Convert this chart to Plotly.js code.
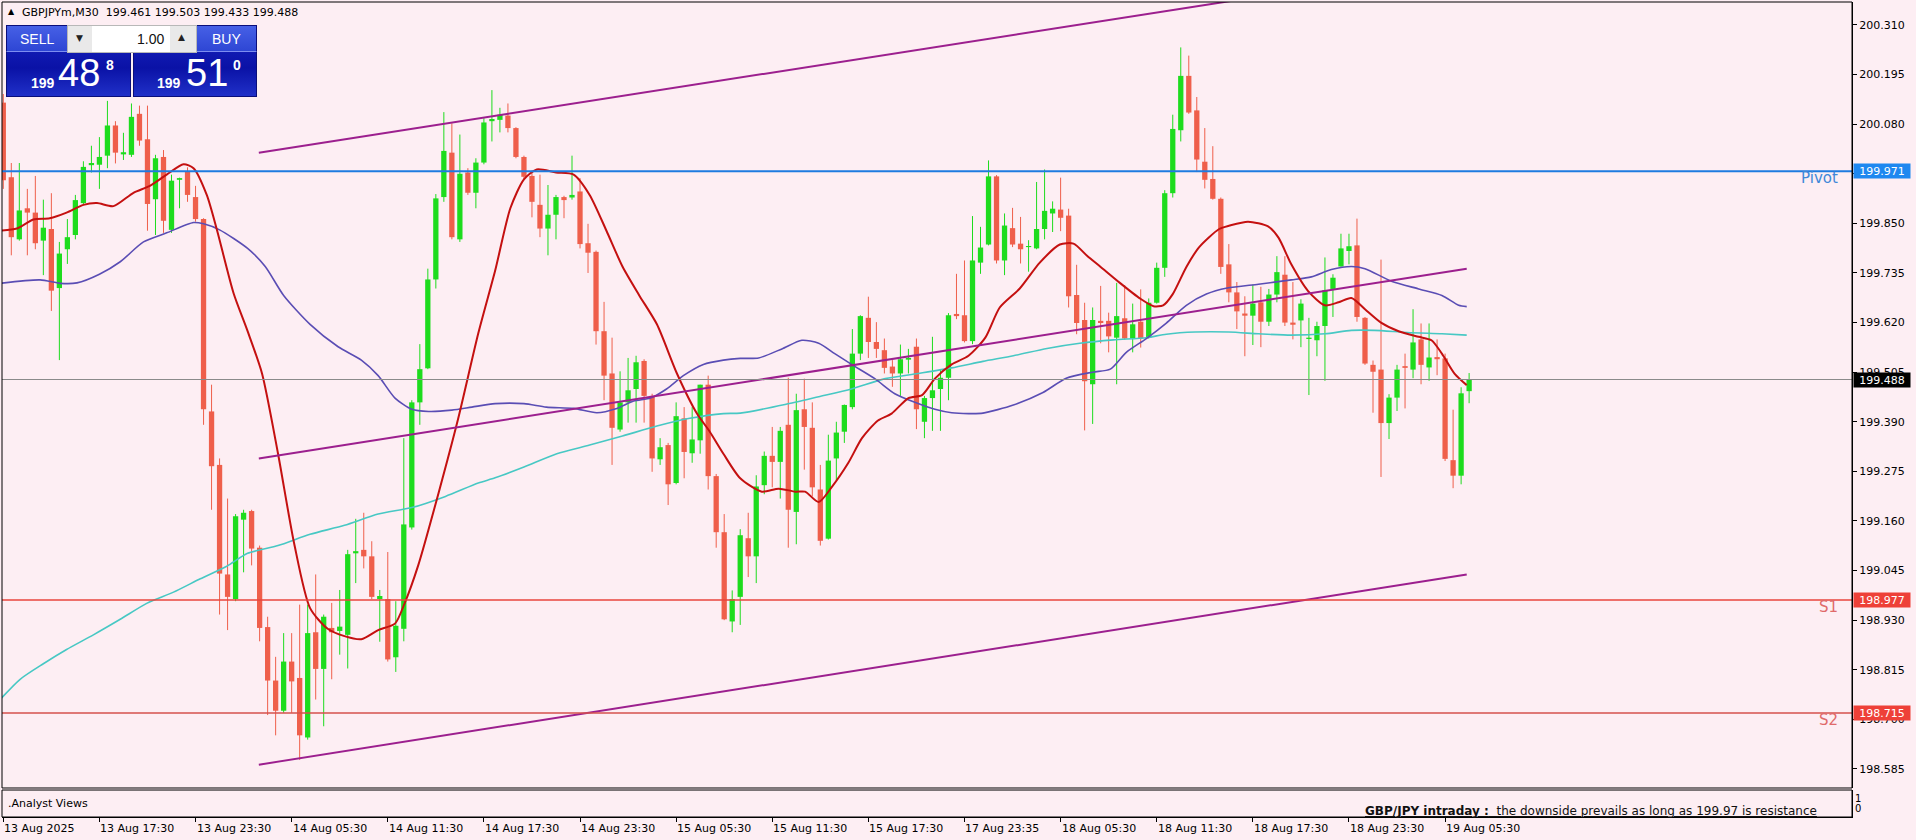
<!DOCTYPE html>
<html><head><meta charset="utf-8">
<script src="https://cdn.plot.ly/plotly-3.0.1.min.js"></script>
<style>
html,body{margin:0;padding:0;background:#FDEEF3;overflow:hidden;}
#chart{width:1916px;height:840px;position:absolute;left:0;top:0;}
.ov{position:absolute;box-sizing:border-box;}
.t{position:absolute;white-space:nowrap;font-family:'Liberation Sans',Arial,sans-serif;color:#fff;line-height:1;}
</style></head><body>
<div id="chart"></div>

<!-- header -->
<div class="t" style="left:8px;top:8px;font-size:8px;color:#000;font-family:'DejaVu Sans';">&#9650;</div>
<div class="t" style="left:22px;top:7px;font-size:11px;color:#000;font-family:'DejaVu Sans';">GBPJPYm,M30&nbsp;&nbsp;199.461 199.503 199.433 199.488</div>

<!-- one click trading panel -->
<div class="ov" style="left:6px;top:25px;width:125px;height:72px;background:linear-gradient(#1a26c4,#0a12a6 60%,#2030c8);border:1px solid #0a0e7a;"></div>
<div class="ov" style="left:6px;top:25px;width:62px;height:27px;background:linear-gradient(#4660e6,#2e46d4);border:1px solid #0a0e7a;border-bottom:1px solid #7d8df0;"></div>
<div class="ov" style="left:133px;top:25px;width:124px;height:72px;background:linear-gradient(#1a26c4,#0a12a6 60%,#2030c8);border:1px solid #0a0e7a;"></div>
<div class="ov" style="left:196px;top:25px;width:61px;height:27px;background:linear-gradient(#4660e6,#2e46d4);border:1px solid #0a0e7a;border-bottom:1px solid #7d8df0;"></div>
<div class="ov" style="left:133px;top:51px;width:63px;height:1px;background:#7d8df0;"></div>
<div class="ov" style="left:67px;top:25px;width:130px;height:28px;background:#e9e9e9;border:1px solid #b8b8b8;"></div>
<div class="ov" style="left:92px;top:26px;width:78px;height:26px;background:#ffffff;"></div>
<div class="t" style="left:76px;top:34px;font-size:9px;color:#222;font-family:'DejaVu Sans';">&#9660;</div>
<div class="t" style="left:178px;top:33px;font-size:9px;color:#222;font-family:'DejaVu Sans';">&#9650;</div>
<div class="t" style="left:137px;top:32px;font-size:14px;color:#111;">1.00</div>
<div class="t" style="left:20px;top:32px;font-size:14px;">SELL</div>
<div class="t" style="left:212px;top:32px;font-size:14px;">BUY</div>
<div class="t" style="left:31px;top:76px;font-size:14px;font-weight:bold;">199</div>
<div class="t" style="left:58px;top:54px;font-size:38px;">48</div>
<div class="t" style="left:106px;top:58px;font-size:14px;font-weight:bold;">8</div>
<div class="t" style="left:157px;top:76px;font-size:14px;font-weight:bold;">199</div>
<div class="t" style="left:186px;top:54px;font-size:38px;">51</div>
<div class="t" style="left:233px;top:58px;font-size:14px;font-weight:bold;">0</div>

<script>
// ---------------- data ----------------
const symbol = 'GBPJPYm,M30';
const tickIdx = [0,12,24,36,48,60,72,84,96,108,120,132,144,156,168,180];
const tickLabels = ['13 Aug 2025','13 Aug 17:30','13 Aug 23:30','14 Aug 05:30','14 Aug 11:30','14 Aug 17:30','14 Aug 23:30','15 Aug 05:30','15 Aug 11:30','15 Aug 17:30','17 Aug 23:35','18 Aug 05:30','18 Aug 11:30','18 Aug 17:30','18 Aug 23:30','19 Aug 05:30'];
const priceTicks = [198.585,198.700,198.815,198.930,199.045,199.160,199.275,199.390,199.505,199.620,199.735,199.850,199.965,200.080,200.195,200.310];

const openP = [200.13,199.957,199.813,199.885,199.875,199.81,199.837,199.70,199.79,199.823,199.897,199.985,199.986,200.007,200.077,200.01,200.009,200.104,200.045,199.906,200.004,199.835,199.951,199.97,199.911,199.86,199.414,199.29,199.036,198.979,
199.163,199.183,199.098,198.914,198.79,198.72,198.834,198.796,198.658,198.902,198.817,198.912,198.905,198.896,199.085,199.093,199.078,198.979,198.979,198.844,198.91,199.145,199.435,199.514,199.72,199.911,200.014,199.813,199.968,199.921,
199.991,200.087,200.09,200.1,200.071,200.004,199.96,199.893,199.838,199.87,199.911,199.91,199.924,199.804,199.784,199.6,199.502,199.372,199.435,199.466,199.531,199.45,199.303,199.336,199.248,199.398,199.317,199.347,199.476,199.264,
199.134,198.927,198.984,199.12,199.078,199.243,199.311,199.297,199.383,199.181,199.419,199.376,199.233,199.119,199.305,199.367,199.424,199.548,199.631,199.575,199.556,199.518,199.502,199.534,199.564,199.39,199.445,199.466,199.492,199.64,
199.637,199.577,199.759,199.801,199.959,199.764,199.839,199.803,199.795,199.792,199.837,199.873,199.882,199.868,199.684,199.626,199.477,199.624,199.624,199.585,199.63,199.583,199.622,199.585,199.666,199.747,199.92,200.066,200.192,200.112,
199.993,199.953,199.907,199.755,199.69,199.641,199.636,199.667,199.622,199.685,199.731,199.62,199.625,199.582,199.579,199.612,199.698,199.75,199.786,199.799,199.631,199.522,199.511,199.387,199.446,199.519,199.511,199.581,199.516,199.54,
199.537,199.301,199.265,199.461];
const highP = [200.15,199.99,199.99,199.93,199.96,199.905,199.92,199.807,199.86,199.916,199.994,200.03,200.05,200.134,200.087,200.06,200.128,200.123,200.123,200.009,200.02,199.963,199.956,199.98,199.937,199.862,199.476,199.305,199.212,199.176,
199.186,199.186,199.103,198.938,198.845,198.9,198.9,198.966,198.966,199.036,198.943,198.97,199.0,199.093,199.165,199.179,199.113,199.0,199.088,198.974,199.352,199.44,199.57,199.745,199.918,200.108,200.082,200.056,199.978,200.001,
200.094,200.159,200.118,200.128,200.073,200.007,199.973,199.963,199.939,199.916,199.914,200.007,199.955,199.849,199.787,199.668,199.585,199.507,199.538,199.543,199.535,199.455,199.352,199.341,199.435,199.424,199.424,199.476,199.497,199.269,
199.176,198.999,199.141,199.179,199.266,199.321,199.378,199.378,199.492,199.455,199.49,199.435,199.29,199.36,199.39,199.43,199.605,199.637,199.68,199.621,199.583,199.533,199.569,199.559,199.583,199.45,199.587,199.512,199.642,199.733,
199.764,199.867,199.842,199.996,199.962,199.873,199.886,199.865,199.811,199.946,199.975,199.901,199.956,199.884,199.754,199.666,199.655,199.705,199.643,199.712,199.707,199.664,199.697,199.676,199.759,199.927,200.102,200.258,200.239,200.143,
200.071,200.029,199.91,199.802,199.714,199.681,199.708,199.703,199.698,199.774,199.774,199.714,199.674,199.631,199.622,199.771,199.732,199.826,199.826,199.861,199.633,199.532,199.766,199.454,199.522,199.548,199.651,199.618,199.618,199.581,
199.548,199.418,199.47,199.503];
const lowP = [199.93,199.776,199.81,199.776,199.79,199.73,199.647,199.533,199.756,199.813,199.895,199.968,199.93,199.978,199.989,199.997,200.004,200.03,199.833,199.823,199.828,199.828,199.885,199.9,199.854,199.383,199.186,198.943,198.907,198.974,
199.041,199.057,198.881,198.71,198.663,198.715,198.715,198.606,198.653,198.746,198.684,198.793,198.85,198.818,199.016,199.05,198.979,198.88,198.834,198.81,198.881,199.14,199.383,199.512,199.699,199.9,199.813,199.807,199.916,199.885,
199.987,200.04,200.061,200.061,200.001,199.952,199.864,199.818,199.776,199.813,199.862,199.905,199.792,199.735,199.569,199.44,199.29,199.367,199.388,199.388,199.388,199.274,199.29,199.197,199.245,199.259,199.295,199.316,199.233,199.098,
198.93,198.902,198.919,199.03,199.016,199.222,199.238,199.212,199.098,199.106,199.279,199.217,199.103,199.117,199.254,199.341,199.419,199.533,199.538,199.538,199.502,199.471,199.45,199.502,199.373,199.352,199.369,199.369,199.44,199.628,
199.574,199.57,199.733,199.799,199.757,199.73,199.795,199.757,199.738,199.79,199.813,199.83,199.832,199.655,199.593,199.37,199.385,199.572,199.551,199.477,199.58,199.551,199.562,199.583,199.664,199.726,199.91,200.04,200.104,199.969,
199.931,199.905,199.733,199.667,199.605,199.542,199.568,199.563,199.612,199.667,199.612,199.581,199.563,199.452,199.542,199.485,199.633,199.75,199.755,199.622,199.522,199.411,199.262,199.35,199.415,199.421,199.491,199.477,199.485,199.498,
199.299,199.236,199.245,199.433];
const closeP = [199.95,199.818,199.88,199.875,199.804,199.84,199.694,199.78,199.818,199.904,199.981,199.99,200.004,200.077,200.014,200.015,200.097,200.042,199.895,200.001,199.856,199.949,199.955,199.916,199.86,199.419,199.287,199.038,198.984,199.171,
199.179,199.096,198.912,198.79,198.72,198.834,198.788,198.663,198.9,198.817,198.938,198.902,198.915,199.083,199.09,199.078,198.984,198.986,198.839,198.917,199.152,199.435,199.512,199.72,199.908,200.018,199.818,199.965,199.921,199.991,
200.084,200.092,200.102,200.071,200.004,199.958,199.9,199.838,199.87,199.911,199.904,199.916,199.802,199.782,199.6,199.497,199.376,199.435,199.463,199.528,199.45,199.305,199.331,199.245,199.403,199.32,199.349,199.476,199.264,199.134,
198.932,198.979,199.127,199.078,199.24,199.311,199.297,199.369,199.186,199.417,199.378,199.238,199.114,199.3,199.365,199.429,199.548,199.635,199.575,199.559,199.515,199.502,199.535,199.538,199.419,199.445,199.463,199.492,199.637,199.635,
199.577,199.764,199.794,199.959,199.764,199.845,199.801,199.79,199.797,199.837,199.879,199.884,199.863,199.681,199.619,199.484,199.626,199.619,199.588,199.635,199.583,199.616,199.583,199.666,199.747,199.92,200.069,200.192,200.107,199.998,
199.951,199.907,199.749,199.69,199.646,199.636,199.664,199.622,199.685,199.737,199.62,199.615,199.664,199.585,199.612,199.695,199.724,199.792,199.797,199.633,199.525,199.506,199.387,199.446,199.511,199.515,199.574,199.522,199.539,199.535,
199.304,199.265,199.456,199.488];

// moving averages (bar position, price)
const maFastX = [-0.4,1.7,3.75,5.8,7.9,10,11.7,13.75,16.25,18.3,20.4,22.5,23.75,25.4,26.7,28.75,30.5,32.3,34.3,36.3,38.3,40.5,42.6,44.7,46.8,48.9,50.1,51.8,54.3,56.8,59.3,61.4,63.3,65,66.6,69,71.2,73.2,75.3,77.3,79.4,81.6,84.1,86.6,88.2,89.9,92,94.7,96.8,98.9,100.1,101.8,103.4,105.5,107.2,109.2,110.9,113,114.7,116.3,118.4,120.5,122.6,124.4,126.9,129.4,131.9,133.6,135.3,137,139.4,141.9,143.6,144.8,146,147.7,149.3,151.8,153.1,155.4,157.9,159.2,160.8,162.9,165,166.7,168.3,170,172,174.2,176.7,178.3,179.6,181.2,182.7];
const maFastY = [199.833,199.838,199.859,199.862,199.875,199.893,199.897,199.89,199.921,199.937,199.963,199.987,199.978,199.916,199.833,199.688,199.60,199.502,199.316,199.109,198.958,198.91,198.893,198.886,198.907,198.922,198.969,199.057,199.222,199.398,199.595,199.74,199.885,199.952,199.975,199.968,199.963,199.916,199.833,199.75,199.683,199.616,199.502,199.409,199.367,199.316,199.259,199.228,199.235,199.228,199.228,199.204,199.238,199.295,199.352,199.393,199.409,199.445,199.452,199.49,199.523,199.543,199.585,199.655,199.699,199.759,199.801,199.803,199.775,199.749,199.712,199.676,199.658,199.66,199.686,199.749,199.795,199.837,199.845,199.854,199.843,199.817,199.755,199.693,199.66,199.667,199.677,199.651,199.62,199.6,199.587,199.579,199.548,199.501,199.475];
const maMidX = [-0.4,4.6,7.1,9.2,12,14.6,17.5,20.4,23.75,25,27,30.5,32.7,35,38.3,41.8,44.7,46.8,48.9,51,53.1,56,58.5,61.4,65,67.8,71.2,74.1,76.6,78.7,80.8,82.8,84.9,87.4,89.9,92,94.3,97.2,99.7,101.8,103.8,105.9,108.8,111.3,113.8,116.3,118.4,120.5,122.3,126.1,129.8,132.7,136,138.2,140.2,142.7,145.2,147.7,150.2,152.8,156.7,160.8,163.3,165.8,168.3,170,173.3,176.7,179.6,181.7,182.7];
const maMidY = [199.711,199.719,199.711,199.712,199.732,199.761,199.807,199.828,199.852,199.849,199.835,199.792,199.75,199.683,199.616,199.564,199.533,199.497,199.445,199.419,199.414,199.417,199.424,199.432,199.432,199.424,199.421,199.411,199.421,199.438,199.445,199.466,199.497,199.523,199.533,199.537,199.538,199.559,199.579,199.572,199.548,199.523,199.49,199.455,199.435,199.419,199.411,199.409,199.41,199.429,199.458,199.491,199.505,199.512,199.551,199.583,199.619,199.66,199.686,199.70,199.709,199.719,199.726,199.743,199.75,199.745,199.716,199.698,199.683,199.66,199.657];
const maSlowX = [-0.4,2.1,5,7.9,11.25,14.6,17.9,21.25,24.6,27.9,30.5,34.3,38.3,42.6,46.8,51,55.2,59.3,61.4,65,69.1,73.2,77.3,81.6,85.7,89.9,92,97.6,101.8,105.9,110.1,114.2,118.4,122.3,126.1,130.3,134.4,138.6,142.7,145.2,148.8,153,156.7,160.8,165,168.3,171.2,175.3,179.6,182.7];
const maSlowY = [198.746,198.793,198.829,198.862,198.896,198.932,198.969,198.995,199.026,199.055,199.085,199.103,199.129,199.15,199.176,199.191,199.217,199.248,199.26,199.285,199.316,199.336,199.357,199.38,199.398,199.409,199.41,199.43,199.448,199.466,199.49,199.502,199.515,199.53,199.543,199.56,199.572,199.58,199.585,199.593,199.598,199.598,199.594,199.591,199.594,199.602,199.602,199.597,199.594,199.591];

// price channel (start/end bar, price at start/end)
const channelIdx = [31.9, 182.7];
const upperChannel = [200.014, 200.451];
const middleChannel = [199.305, 199.745];
const lowerChannel = [198.595, 199.036];

const levelNames = ['Pivot','S1','S2'];
const levelValues = [199.971, 198.977, 198.715];
const lastPrice = 199.488;
const analystHead = 'GBP/JPY intraday :';
const analystText = 'the downside prevails as long as 199.97 is resistance';

// ---------------- styles ----------------
const BG = '#FDEEF3';
const UP = '#1EDC1E', DN = '#EF5F4B';
const FONT = 'DejaVu Sans';

// ---------------- traces ----------------
const upX=[], upBase=[], upH=[], dnX=[], dnBase=[], dnH=[];
const upWX=[], upWY=[], dnWX=[], dnWY=[];
for (let i=0;i<openP.length;i++){
  const o=openP[i], c=closeP[i];
  if (c>=o){
    upX.push(i); upBase.push(o); upH.push(Math.max(c-o,0.0025));
    upWX.push(i,i,null); upWY.push(lowP[i],highP[i],null);
  } else {
    dnX.push(i); dnBase.push(c); dnH.push(Math.max(o-c,0.0025));
    dnWX.push(i,i,null); dnWY.push(lowP[i],highP[i],null);
  }
}
const traces = [
  {type:'scatter',mode:'lines',x:upWX,y:upWY,xaxis:'x',yaxis:'y2',line:{color:UP,width:1},hoverinfo:'skip'},
  {type:'scatter',mode:'lines',x:dnWX,y:dnWY,xaxis:'x',yaxis:'y2',line:{color:DN,width:1},hoverinfo:'skip'},
  {type:'bar',x:upX,base:upBase,y:upH,width:0.66,xaxis:'x',yaxis:'y2',marker:{color:UP,line:{width:0}}},
  {type:'bar',x:dnX,base:dnBase,y:dnH,width:0.66,xaxis:'x',yaxis:'y2',marker:{color:DN,line:{width:0}}},
  {type:'scatter',mode:'lines',x:maSlowX,y:maSlowY,xaxis:'x',yaxis:'y2',line:{color:'#47C8C4',width:1.6,shape:'spline',smoothing:0.7}},
  {type:'scatter',mode:'lines',x:maMidX,y:maMidY,xaxis:'x',yaxis:'y2',line:{color:'#5A4DB4',width:1.6,shape:'spline',smoothing:0.7}},
  {type:'scatter',mode:'lines',x:maFastX,y:maFastY,xaxis:'x',yaxis:'y2',line:{color:'#C41010',width:2,shape:'spline',smoothing:0.7}},
  {type:'scatter',mode:'lines',x:[0],y:[0],xaxis:'x',yaxis:'y',line:{width:0},hoverinfo:'skip'}
];

// ---------------- shapes ----------------
const shapes = [];
[upperChannel, middleChannel, lowerChannel].forEach(ch=>{
  shapes.push({type:'line',xref:'x',yref:'y2',x0:channelIdx[0],x1:channelIdx[1],y0:ch[0],y1:ch[1],line:{color:'#9C1F8E',width:2}});
});
const levelColors = ['#1E7BE0','#E8453C','#D4504C'];
levelValues.forEach((v,k)=>{
  shapes.push({type:'line',xref:'paper',yref:'y2',x0:0,x1:1,y0:v,y1:v,line:{color:levelColors[k],width:k===0?2:1.5}});
});
shapes.push({type:'line',xref:'paper',yref:'y2',x0:0,x1:1,y0:lastPrice,y1:lastPrice,line:{color:'#8A8A8A',width:1}});
// panel frames
shapes.push({type:'rect',xref:'paper',yref:'y2 domain',x0:0,x1:1,y0:0,y1:1,line:{color:'#000',width:1},fillcolor:'rgba(0,0,0,0)'});
shapes.push({type:'rect',xref:'paper',yref:'y domain',x0:0,x1:1,y0:0,y1:1,line:{color:'#000',width:1},fillcolor:'rgba(0,0,0,0)'});

// ---------------- annotations ----------------
const ann = [];
const lvlTextColors = ['#3F88D8','#E06A6A','#E06A6A'];
const boxColors = ['#1E88F0','#EE4038','#EE4038'];
levelValues.forEach((v,k)=>{
  ann.push({xref:'paper',yref:'y2',x:0.9935,y:v,xanchor:'right',yanchor:'middle',yshift:-7,showarrow:false,
    text:levelNames[k],font:{family:FONT,size:15,color:lvlTextColors[k]}});
  ann.push({xref:'paper',yref:'y2',x:1.0006,y:v,xanchor:'left',yanchor:'middle',showarrow:false,
    text:v.toFixed(3),bgcolor:boxColors[k],borderpad:1,width:54,height:12,
    font:{family:FONT,size:11,color:'#ffffff'}});
});
ann.push({xref:'paper',yref:'y2',x:1.0006,y:lastPrice,xanchor:'left',yanchor:'middle',showarrow:false,
  text:lastPrice.toFixed(3),bgcolor:'#000000',borderpad:1,width:54,height:12,font:{family:FONT,size:11,color:'#ffffff'}});
tickIdx.forEach((ix,k)=>{
  ann.push({xref:'x',yref:'paper',x:ix,y:-0.0135,xanchor:'left',yanchor:'middle',xshift:-1,showarrow:false,
    text:tickLabels[k],font:{family:FONT,size:11,color:'#000'}});
});
ann.push({xref:'paper',yref:'y',x:0,y:0.45,xanchor:'left',yanchor:'middle',xshift:4,showarrow:false,
  text:'.Analyst Views',font:{family:FONT,size:11,color:'#000'}});
ann.push({xref:'paper',yref:'y',x:0.982,y:-0.3,xanchor:'right',yanchor:'middle',showarrow:false,
  text:'<span style="text-decoration:underline"><b>'+analystHead+'</b>&nbsp;&nbsp;'+analystText+'</span>',
  font:{family:FONT,size:12,color:'#111'}});

// ---------------- layout ----------------
const layout = {
  width:1916,height:840,
  margin:{l:2,r:64,t:2,b:23,pad:0},
  paper_bgcolor:BG,plot_bgcolor:BG,
  showlegend:false,hovermode:false,barmode:'overlay',
  font:{family:FONT,size:11,color:'#000'},
  xaxis:{anchor:'y',range:[-0.162,230.8],showgrid:false,zeroline:false,showline:true,linecolor:'#000',linewidth:1,
    tickmode:'array',tickvals:tickIdx,showticklabels:false,ticks:'outside',ticklen:4,tickcolor:'#000'},
  yaxis:{domain:[0,0.0331],range:[-0.9,1.8],side:'right',showgrid:false,zeroline:false,showline:true,linecolor:'#000',
    tickmode:'array',tickvals:[0,1],ticktext:['0','1'],ticks:'',tickfont:{family:FONT,size:10,color:'#000'}},
  yaxis2:{domain:[0.0356,1],range:[198.5409,200.3633],side:'right',anchor:'x',showgrid:false,zeroline:false,showline:true,
    linecolor:'#000',linewidth:1,tickmode:'array',tickvals:priceTicks,ticktext:priceTicks.map(v=>v.toFixed(3)),
    ticks:'outside',ticklen:4,tickcolor:'#000',tickfont:{family:FONT,size:11,color:'#000'}},
  shapes:shapes,annotations:ann
};
Plotly.newPlot('chart',traces,layout,{staticPlot:true,displayModeBar:false});
</script>
</body></html>
